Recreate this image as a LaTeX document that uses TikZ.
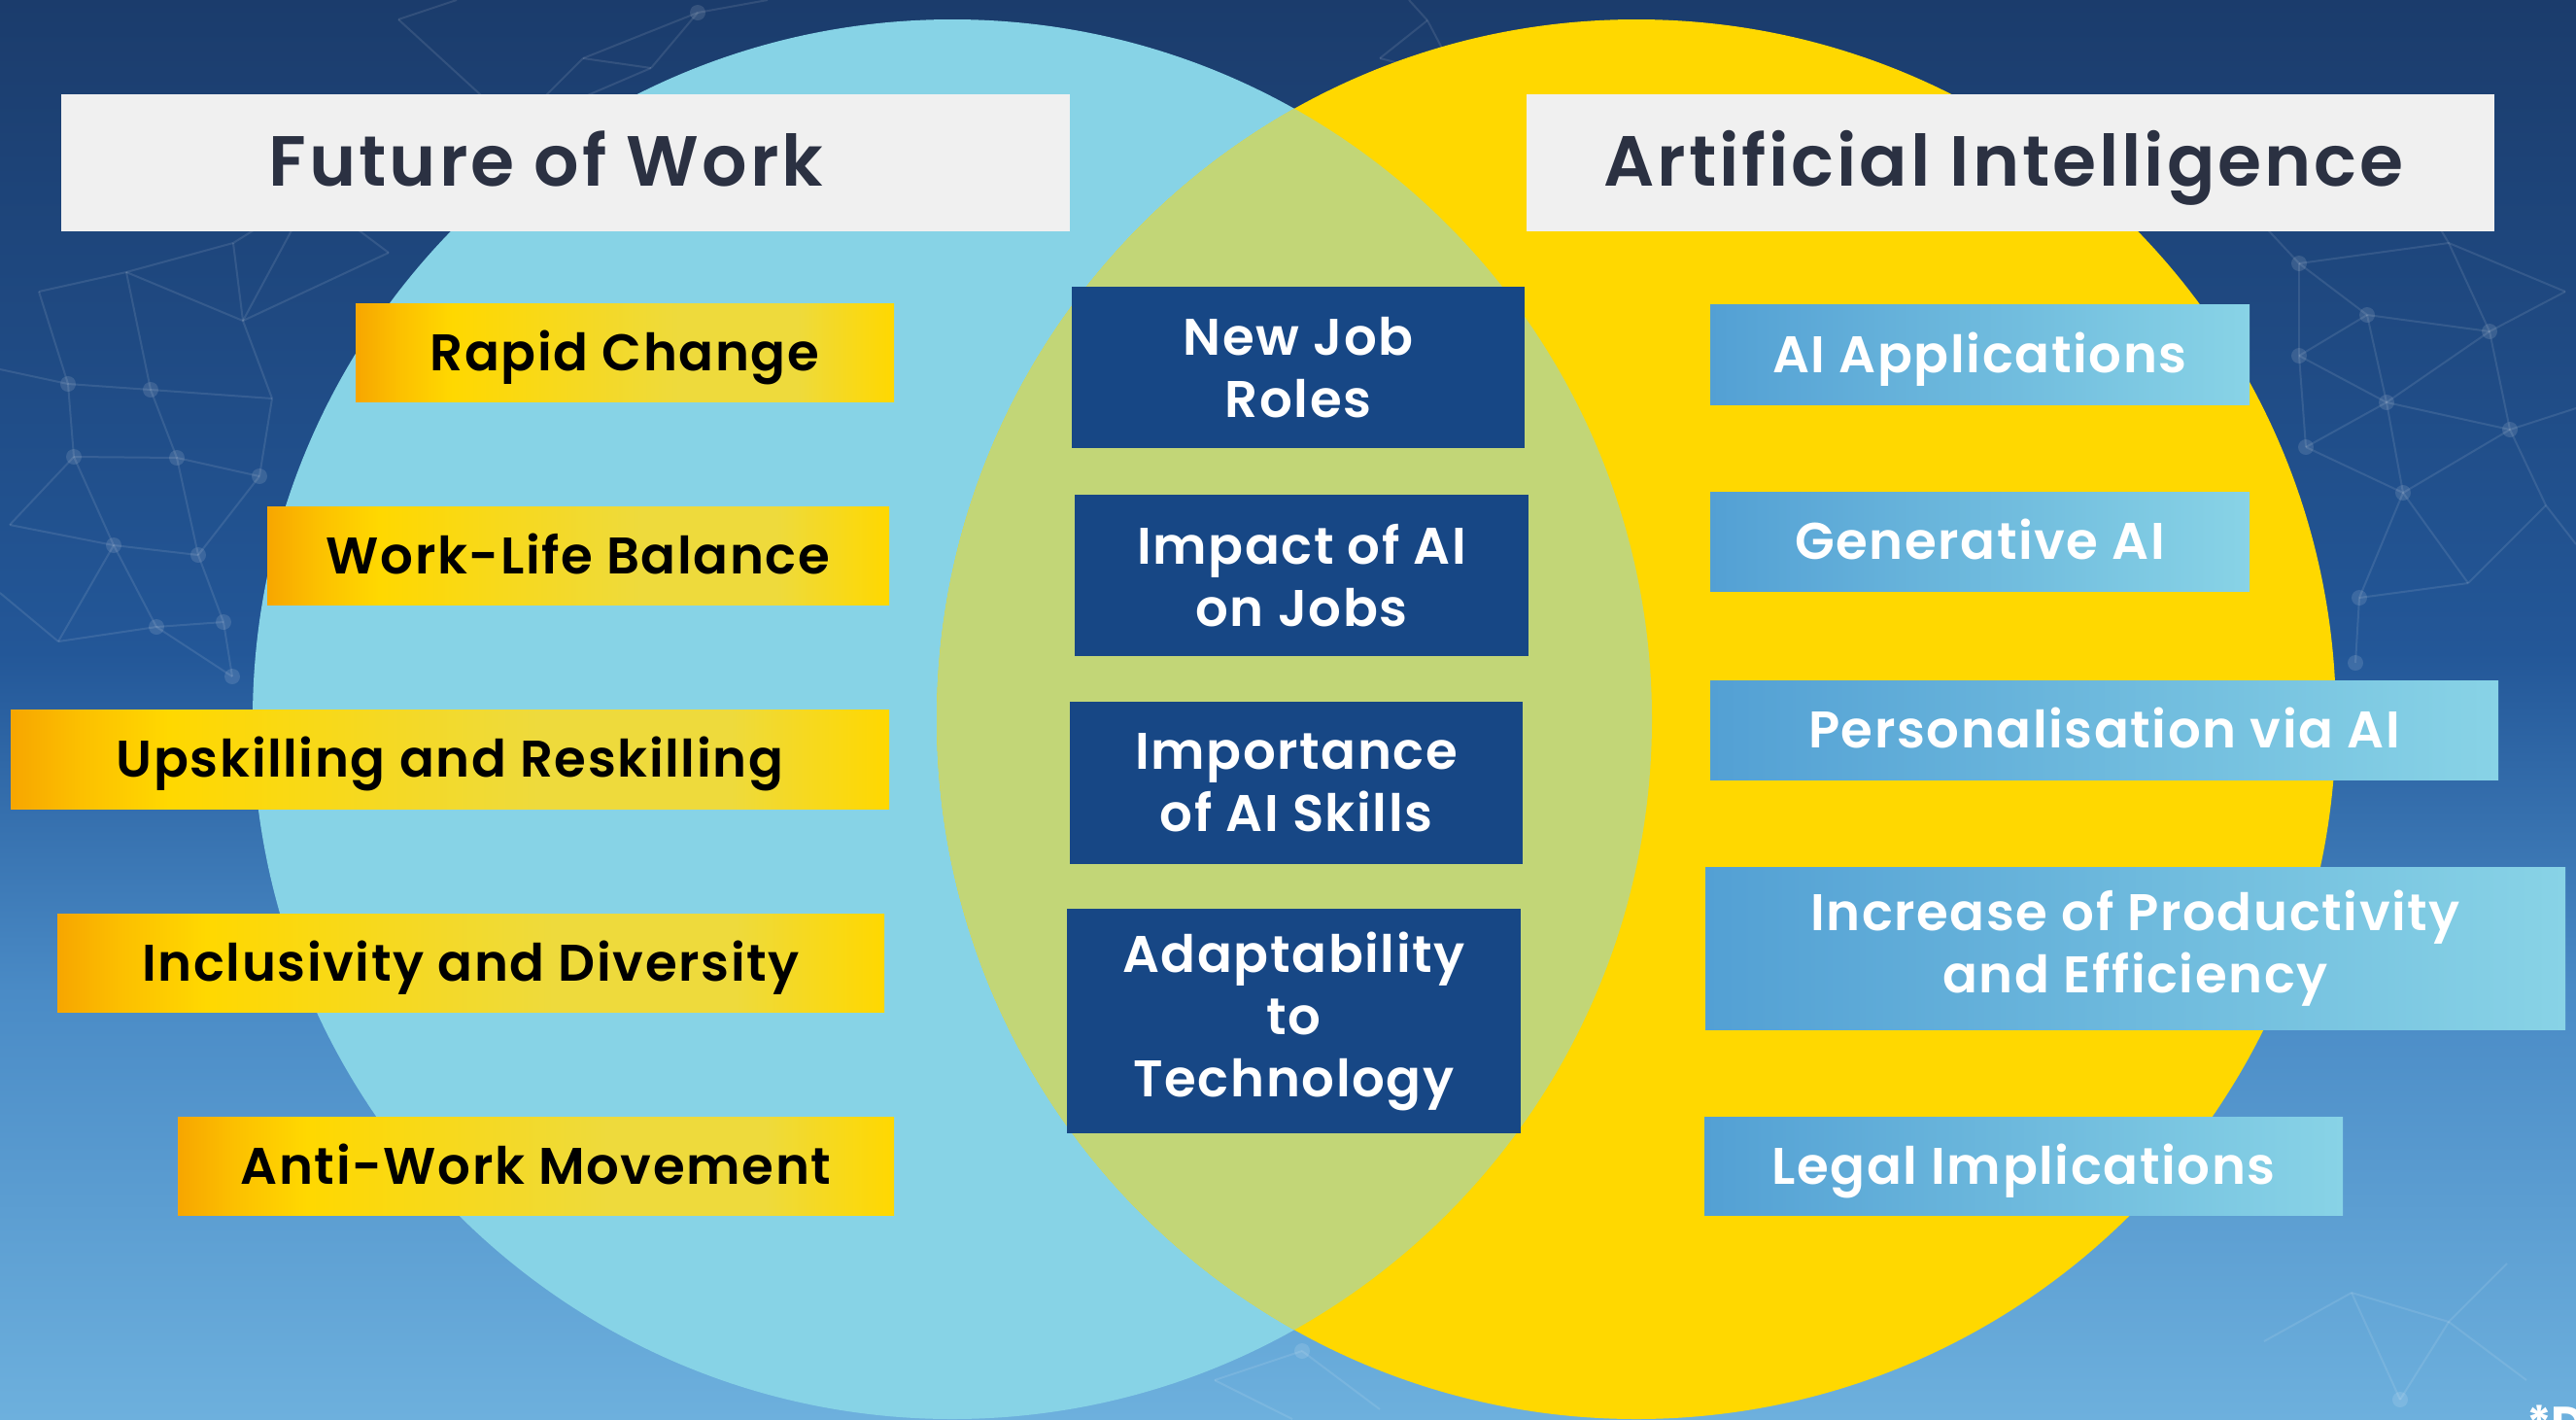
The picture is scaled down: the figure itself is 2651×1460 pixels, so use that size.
\documentclass[tikz,border=0pt]{standalone}
\usepackage{fontspec}
\setmainfont{Poppins}
\newfontfamily\popsemi{Poppins SemiBold}[LetterSpace=3]
\newfontfamily\poptitle{Poppins SemiBold}[LetterSpace=4]
\definecolor{bgtop}{HTML}{1B3C6C}
\definecolor{bgmid}{HTML}{235798}
\definecolor{bgmid2}{HTML}{4A8BC6}
\definecolor{bgbot}{HTML}{6DB0DD}
\definecolor{circL}{HTML}{87D3E6}
\definecolor{circR}{HTML}{FFD800}
\definecolor{circM}{HTML}{C2D677}
\definecolor{titlebg}{HTML}{F0F0F0}
\definecolor{titlefg}{HTML}{2B3142}
\definecolor{navy}{HTML}{174785}
\definecolor{ybO}{HTML}{F7A600}
\definecolor{ybA}{HTML}{FCC000}
\definecolor{ybY}{HTML}{FFD800}
\definecolor{ybL}{HTML}{EEDA3C}
\definecolor{bbL}{HTML}{53A0D4}
\definecolor{bbR}{HTML}{88D3E6}
\pgfdeclareverticalshading{bgshade}{100bp}{color(0bp)=(bgbot); color(25bp)=(bgbot); color(40bp)=(bgmid2); color(52bp)=(bgmid); color(75bp)=(bgtop); color(100bp)=(bgtop)}
\pgfdeclarehorizontalshading{yellowbar}{100bp}{color(0bp)=(ybO); color(25bp)=(ybO); color(29bp)=(ybA); color(34bp)=(ybY); color(55bp)=(ybL); color(66bp)=(ybL); color(75bp)=(ybY); color(100bp)=(ybY)}
\pgfdeclarehorizontalshading{bluebar}{100bp}{color(0bp)=(bbL); color(25bp)=(bbL); color(75bp)=(bbR); color(100bp)=(bbR)}
\tikzset{
  itemfont/.style={font=\popsemi\fontsize{53}{64}\selectfont},
  titlefont/.style={font=\poptitle\fontsize{73}{80}\selectfont, text height=51pt, text depth=0pt, inner sep=0pt},
  oneline/.style={text height=37pt, text depth=0pt},
  ybox/.style={shading=yellowbar, inner sep=0pt, anchor=center, align=center, text=black, itemfont, oneline},
  bbox/.style={shading=bluebar, inner sep=0pt, anchor=center, align=center, text=white, itemfont},
  mbox/.style={fill=navy, inner sep=0pt, anchor=center, align=center, text=white, itemfont},
  tbox/.style={fill=titlebg, inner sep=0pt, anchor=center},
  net/.style={draw=white, draw opacity=0.10, line width=2pt},
  netdot/.style={fill=white, fill opacity=0.12},
}
\begin{document}
\begin{tikzpicture}[x=1pt,y=-1pt]
\useasboundingbox (0,0) rectangle (2651,1460);
\shade[shading=bgshade] (0,0) rectangle (2651,1460);
% background network
\foreach \a/\b/\c/\d in {
 40/300/130/280, 130/280/250/330, 40/300/70/395, 130/280/155/401, 250/330/280/410,
 70/395/155/401, 155/401/280/410, 280/410/267/490, 70/395/76/470, 155/401/182/471,
 76/470/182/471, 182/471/267/490, 76/470/117/561, 182/471/204/571, 117/561/204/571,
 267/490/204/571, 76/470/10/540, 10/540/117/561, 117/561/161/645, 204/571/230/640,
 161/645/230/640, 230/640/239/696, 161/645/60/660, 60/660/117/561, 161/645/239/696,
 0/380/70/395, 0/610/60/660, 240/250/130/280, 240/250/250/330, 320/200/240/250,
 320/200/250/330, 400/260/320/200, 400/260/250/330,
 718/13/790/0, 718/13/600/60, 600/60/530/130, 410/20/530/130, 670/70/718/13, 670/70/530/130, 600/60/670/70, 410/20/470/0,
 2366/271/2436/324, 2436/324/2562/341, 2366/271/2366/366, 2436/324/2366/366, 2436/324/2456/414,
 2562/341/2456/414, 2562/341/2583/442, 2366/366/2456/414, 2456/414/2583/442, 2366/366/2373/460,
 2373/460/2456/414, 2373/460/2473/507, 2456/414/2473/507, 2583/442/2473/507, 2473/507/2428/615,
 2428/615/2424/682, 2473/507/2540/600, 2540/600/2428/615, 2583/442/2620/520, 2620/520/2540/600,
 2366/271/2520/250, 2520/250/2562/341, 2520/250/2640/300, 2640/300/2562/341, 2366/271/2300/200,
 2300/200/2460/150, 2460/150/2520/250, 2583/442/2651/420, 2620/520/2651/560,
 1469/21/1420/60, 1420/60/1500/80, 1469/21/1500/80, 1469/21/1450/0,
 2330/1380/2420/1330, 2420/1330/2520/1360, 2520/1360/2580/1300, 2420/1330/2470/1440, 2470/1440/2520/1360, 2520/1360/2600/1420,
 1250/1420/1340/1390, 1340/1390/1420/1450, 1250/1420/1330/1460}
  {\draw[net] (\a,\b) -- (\c,\d);}
\foreach \x/\y in {70/395,155/401,76/470,182/471,267/490,117/561,204/571,161/645,230/640,239/696,
  718/13,
  2366/271,2436/324,2562/341,2366/366,2456/414,2583/442,2373/460,2473/507,2428/615,2424/682,2470/1440,1340/1390}
  {\fill[netdot] (\x,\y) circle[radius=8pt];}
% circles
\fill[circL] (980,740) circle[radius=720pt];
\fill[circR] (1684,740) circle[radius=720pt];
\begin{scope}
  \clip (980,740) circle[radius=720pt];
  \fill[circM] (1684,740) circle[radius=720pt];
\end{scope}
% titles
\node[tbox, minimum width=1038pt, minimum height=141pt] (fowbox) at (582,167.5) {};
\node[tbox, minimum width=996pt, minimum height=141pt] (aibox) at (2069,167.5) {};
\node[titlefont, text=titlefg] (fow) at (562,166) {Future of Work};
\node[titlefont, text=titlefg] (ai) at (2062,166) {Artificial Intelligence};
% left items
\node[ybox, minimum width=554pt, minimum height=101pt] (rc) at (643,362.5) {Rapid Change};
\node[ybox, minimum width=640pt, minimum height=101pt] (wlb) at (595,571.5) {Work-Life Balance};
\node[ybox, minimum width=904pt, minimum height=102pt] (ur) at (463,781) {Upskilling and Reskilling};
\node[ybox, minimum width=851pt, minimum height=101pt] (id) at (484.5,990.5) {Inclusivity and Diversity};
\node[ybox, minimum width=737pt, minimum height=101pt] (aw) at (551.5,1199.5) {Anti-Work Movement};
% middle items
\node[mbox, minimum width=466pt, minimum height=166pt] (njr) at (1336,378) {New Job\\Roles};
\node[mbox, minimum width=467pt, minimum height=166pt] (iaj) at (1339.5,592) {Impact of AI\\on Jobs};
\node[mbox, minimum width=466pt, minimum height=167pt] (ias) at (1334,805.5) {Importance\\of AI Skills};
\node[mbox, minimum width=467pt, minimum height=231pt] (at) at (1331.5,1050.5) {Adaptability\\to\\Technology};
% right items
\node[bbox, oneline, minimum width=555pt, minimum height=103pt] (aia) at (2037.5,364.5) {AI Applications};
\node[bbox, oneline, minimum width=555pt, minimum height=102pt] (gai) at (2037.5,557) {Generative AI};
\node[bbox, oneline, minimum width=811pt, minimum height=102pt] (pai) at (2165.5,751) {Personalisation via AI};
\node[bbox, minimum width=885pt, minimum height=167pt] (ipe) at (2197.5,975.5) {Increase of Productivity\\and Efficiency};
\node[bbox, oneline, minimum width=657pt, minimum height=101pt] (li) at (2082.5,1199.5) {Legal Implications};
% corner mark
\node[anchor=north west, inner sep=0pt, text=white, font=\bfseries\fontsize{48}{52}\selectfont] (mark) at (2600,1446) {*D};
\end{tikzpicture}
\end{document}
